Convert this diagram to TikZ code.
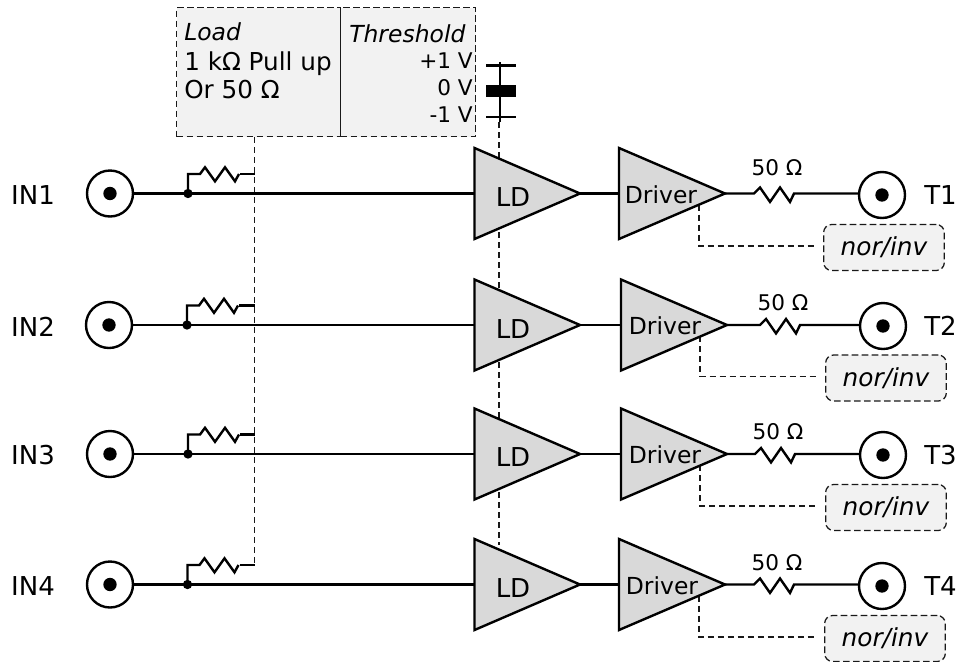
\documentclass[tikz,border=0pt]{standalone}
\usepackage{fontspec}
\setmainfont{DejaVu Sans}
\usetikzlibrary{calc}
\definecolor{boxfill}{HTML}{F2F2F2}
\definecolor{ampfill}{HTML}{D9D9D9}
\tikzset{
  wire/.style={line width=1.8pt,line join=miter},
  dashwire/.style={line width=0.95pt,dash pattern=on 4.5pt off 3pt,draw=black!90},
  panel/.style={draw=black!90,fill=boxfill,line width=0.95pt,dash pattern=on 5pt off 2.5pt,inner sep=0pt},
  conn/.style={circle,draw,line width=1.8pt,fill=white,minimum size=34.5pt,inner sep=0pt},
  conndot/.style={circle,fill=black,minimum size=10pt,inner sep=0pt},
  junct/.style={circle,fill=black,minimum size=7pt,inner sep=0pt},
  amp/.style={draw,fill=ampfill,line width=1.8pt,line join=miter},
  txt/.style={font=\fontsize{17.6}{20}\selectfont,inner sep=0pt,text=black},
  bigtxt/.style={font=\fontsize{19.5}{22}\selectfont,inner sep=0pt,text=black},
  wide/.style={font=\fontsize{18.5}{22}\selectfont,inner sep=0pt,text=black},
  small/.style={font=\fontsize{16.2}{20}\selectfont,inner sep=0pt,text=black},
  tag/.style={draw=black!90,fill=boxfill,line width=0.95pt,dash pattern=on 5pt off 2.5pt,rounded corners=6pt,minimum width=90.5pt,minimum height=34.5pt,inner sep=0pt}
}
\begin{document}
\begin{tikzpicture}[x=0.75pt,y=-0.75pt]
\useasboundingbox (0,0) rectangle (959,661);
\clip (0,0) rectangle (959,661);
% top panels
\node[panel,minimum width=123pt,minimum height=96.75pt,anchor=north west] (load) at (176,7) {};
\node[panel,minimum width=101.25pt,minimum height=96.75pt,anchor=north west] (thr) at (340,7) {};
\node[txt,anchor=base west] (loadA) at (184,40) {\itshape Load};
\node[wide,anchor=base west] (loadB) at (184,70) {1 kΩ Pull up};
\node[wide,anchor=base west] (loadC) at (184,98) {Or 50 Ω};
\node[txt,anchor=base west] (thrA) at (349,42) {\itshape Threshold};
\node[small,anchor=base east] (thrB) at (473,68) {+1 V};
\node[small,anchor=base east] (thrC) at (473,95) {0 V};
\node[small,anchor=base east] (thrD) at (473,122) {-1 V};
% threshold slider
\coordinate (sTop) at (500,62);
\coordinate (sBot) at (500,122);
\coordinate (sEnd) at (499,545);
\coordinate (s1a) at (486,65.5);
\coordinate (s1b) at (516,65.5);
\coordinate (s2a) at (486,117);
\coordinate (s2b) at (516,117);
\draw[dashwire] (sBot -| sEnd) -- (sEnd);
\draw[wire] (sTop) -- (sBot);
\draw[wire] (s1a) -- (s1b);
\draw[wire] (s2a) -- (s2b);
\fill (486,85) rectangle (516,97);
% load bus
\coordinate (busEnd) at (254.5,565);
\draw[dashwire] (load.south -| busEnd) -- (busEnd);
% rows
\foreach \n/\y/\ix/\jx/\dx/\tx/\ty/\tagx/\tagy/\lx/\ly/\dtx/\ldy in {
  1/193.5/110/188/0/882/195/823/247.5/777/168/661/4,
  2/325/109/187/2/883/326/825/378/783/303/665/4,
  3/454/110/188/2/883/455/825/507.5/778/432/665/3,
  4/584.5/110/187.5/0/882/586/824/638.5/777/563/662/4}{
  \node[conn] (in\n) at (\ix,\y) {};
  \node[conndot] (ind\n) at (\ix,\y) {};
  \node[bigtxt] (inl\n) at (33,\y+1.5) {IN\n};
  \node[junct] (j\n) at (\jx,\y) {};
  \coordinate (ldl\n) at (474.5,\y);
  \coordinate (ldt\n) at (580,\y);
  \coordinate (drl\n) at (619+\dx,\y);
  \coordinate (drt\n) at (725+\dx,\y);
  \coordinate (rs\n) at (\lx-23,\y);
  \node[conn] (t\n) at (\tx,\ty) {};
  \node[conndot] (td\n) at (\tx,\ty) {};
  \node[bigtxt] (tl\n) at (940.5,\ty) {T\n};
  \node[small] (lab\n) at (\lx,\ly) {50 Ω};
  \node[tag,anchor=west] (tag\n) at (\tagx,\tagy) {\fontsize{18.6}{20}\selectfont\itshape nor/inv\hspace{6.75pt}};
  % driver control line
  \coordinate (c\n) at (699+\dx/2,\y+11);
  \coordinate (ce\n) at (817+\dx/2,\tagy-1.5);
  \draw[dashwire] (c\n) |- (ce\n);
  % main wires
  \draw[wire] (in\n) -- (ldl\n);
  \draw[wire] (ldt\n) -- (drl\n);
  \draw[wire] (j\n.center) -- ++(0,-19.5) -- ++(12,0) -- ++(5,-6.7) -- ++(10,14) -- ++(10,-14) -- ++(10,14) -- ++(4,-7.3) coordinate (re\n);
  \draw[wire] (re\n) ++(1,0) -- (re\n -| busEnd);
  \draw[wire] (drt\n) -- (rs\n) -- ++(6,-6) -- ++(10,14.4) -- ++(10,-14.4) -- ++(10,14.4) -- ++(4,-8.4) coordinate (rf\n) -- (t\n.west |- rf\n);
  % amplifiers
  \draw[amp] (ldl\n) ++(0,-45.5) -- ++(105.5,45.5) -- ++(-105.5,45.5) -- cycle;
  \draw[amp] (drl\n) ++(0,-45.5) -- ++(106,45.5) -- ++(-106,45.5) -- cycle;
  \node[bigtxt] (ldn\n) at (513,\y+\ldy) {LD};
  \node[txt] (drn\n) at (\dtx,\y+1) {Driver};
}
\end{tikzpicture}
\end{document}
